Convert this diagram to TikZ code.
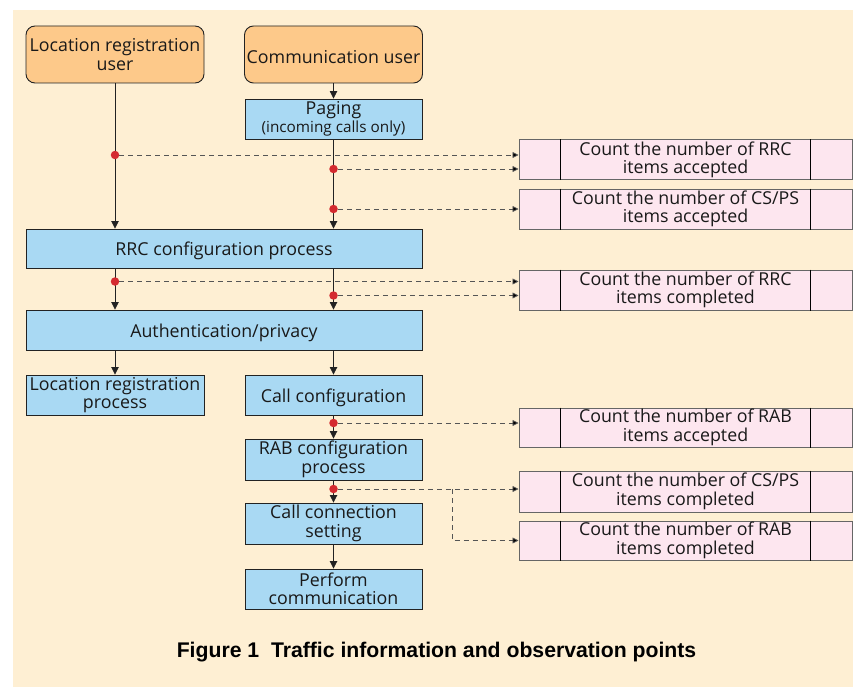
\documentclass[tikz,border=0pt]{standalone}
\usepackage{fontspec}
\setmainfont{Open Sans}
\newfontfamily\capfont{Liberation Sans}
\usetikzlibrary{arrows.meta,calc}

\definecolor{bgbeige}{HTML}{FEEFD3}
\definecolor{userorange}{HTML}{FDC98A}
\definecolor{procblue}{HTML}{A9D9F3}
\definecolor{countpink}{HTML}{FDE6EF}
\definecolor{obsred}{HTML}{D42A2F}
\definecolor{edgegray}{HTML}{222222}
\definecolor{dashgray}{HTML}{555555}

\tikzset{
  x=1pt, y=-1pt,
  base/.style={inner sep=0pt, align=center, text=black!90,
    execute at begin node={\rule{0pt}{19pt}},
    font=\fontsize{17.8}{18.5}\selectfont},
  userbox/.style={base, draw=edgegray, line width=0.9pt, fill=userorange,
    rounded corners=9pt, minimum width=178pt, minimum height=57pt},
  procbox/.style={base, draw=edgegray, line width=0.9pt, fill=procblue,
    minimum height=40pt},
  countbox/.style={base, draw=black!60, line width=1pt, fill=countpink,
    minimum width=333pt, minimum height=40pt},
  obsdot/.style={circle, fill=obsred, inner sep=0pt, minimum size=8.5pt},
  flow/.style={draw=edgegray, line width=0.8pt,
    -{Triangle[length=7.5pt,width=7.5pt]}},
  tap/.style={draw=dashgray, line width=0.8pt, dash pattern=on 5pt off 4pt,
    -{Triangle[length=6pt,width=6pt,fill=black]}}
}

\begin{document}
\begin{tikzpicture}
% page and background panel
\useasboundingbox (0,0) rectangle (853,687);
\fill[white] (0,0) rectangle (853,687);
\fill[bgbeige] (13,10) rectangle (853,687);

% users
\node[userbox] (lru) at (115,54.5) {Location registration\\user};
\node[userbox] (cu)  at (333.5,54.5) {Communication user};

% process column
\node[procbox, minimum width=177pt] (pag) at (333.5,119)
  {Paging\\[-1pt]{\fontsize{15.3}{16}\selectfont(incoming calls only)}};
\node[procbox, minimum width=396pt, minimum height=39pt] (rrc) at (224,248.5) {RRC configuration process};
\node[procbox, minimum width=396pt] (auth) at (224,330) {Authentication/privacy};
\node[procbox, minimum width=178pt] (lrp) at (115,395) {Location registration\\process};
\node[procbox, minimum width=177pt] (cc)  at (333.5,395) {Call configuration};
\node[procbox, minimum width=177pt, minimum height=41pt] (rab) at (333.5,459.5) {RAB configuration\\process};
\node[procbox, minimum width=177pt, minimum height=41pt] (ccs) at (333.5,523.5) {Call connection\\setting};
\node[procbox, minimum width=177pt] (pc)  at (333.5,589) {Perform\\communication};

% counters
\node[countbox] (c1) at (685.5,160) {Count the number of RRC\\items accepted};
\node[countbox] (c2) at (685.5,209) {Count the number of CS/PS\\items accepted};
\node[countbox] (c3) at (685.5,290) {Count the number of RRC\\items completed};
\node[countbox, minimum height=39pt] (c4) at (685.5,427.5) {Count the number of RAB\\items accepted};
\node[countbox, minimum height=41pt] (c5) at (685.5,491.5) {Count the number of CS/PS\\items completed};
\node[countbox, minimum height=39pt] (c6) at (685.5,540.5) {Count the number of RAB\\items completed};
\foreach \c in {c1,c2,c3,c4,c5,c6}{
  \draw[black, line width=0.9pt] ([xshift=42pt]\c.north west) -- ([xshift=42pt]\c.south west);
  \draw[black, line width=0.9pt] ([xshift=-42pt]\c.north east) -- ([xshift=-42pt]\c.south east);
}

% main flow
\draw[flow] (lru.south) -- (lru.south |- rrc.north);
\draw[flow] (cu.south) -- (pag.north);
\draw[flow] (pag.south) -- (pag.south |- rrc.north);
\draw[flow] (lru.south |- rrc.south) -- (lru.south |- auth.north);
\draw[flow] (pag.south |- rrc.south) -- (pag.south |- auth.north);
\draw[flow] (lru.south |- auth.south) -- (lrp.north);
\draw[flow] (cc.north |- auth.south) -- (cc.north);
\draw[flow] (cc.south) -- (rab.north);
\draw[flow] (rab.south) -- (ccs.north);
\draw[flow] (ccs.south) -- (pc.north);

% observation points
\node[obsdot] (d1) at (115,155) {};
\node[obsdot] (d2) at (333.5,169) {};
\node[obsdot] (d3) at (333.5,209) {};
\node[obsdot] (d4) at (115,281.5) {};
\node[obsdot] (d5) at (333.5,295.5) {};
\node[obsdot] (d6) at (333.5,423) {};
\node[obsdot] (d7) at (333.5,489) {};
\coordinate (br) at (452,489);

\draw[tap] (d1.east) -- (d1 -| c1.west);
\draw[tap] (d2.east) -- (d2 -| c1.west);
\draw[tap] (d3.east) -- (d3 -| c2.west);
\draw[tap] (d4.east) -- (d4 -| c3.west);
\draw[tap] (d5.east) -- (d5 -| c3.west);
\draw[tap] (d6.east) -- (d6 -| c4.west);
\draw[tap] (d7.east) -- (d7 -| c5.west);
\draw[tap] (br) -- (br |- c6.west) -- (c6.west);

% caption
\node[inner sep=0pt, font=\capfont\bfseries\fontsize{21.2}{24}\selectfont] (cap) at (436.5,652.5)
  {Figure 1\ \ Traffic information and observation points};
\end{tikzpicture}
\end{document}
